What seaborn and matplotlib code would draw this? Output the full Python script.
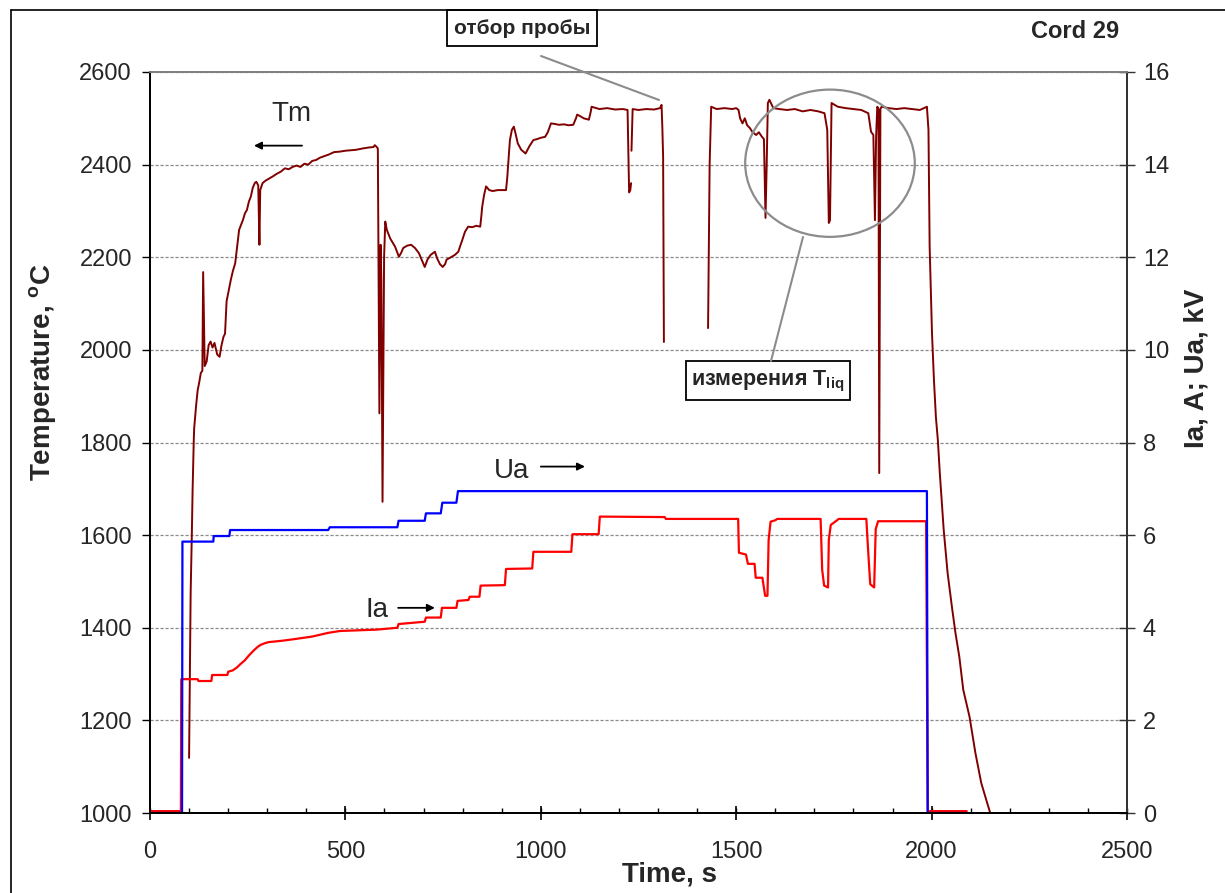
import numpy as np
import pandas as pd
import matplotlib
matplotlib.use("Agg")
import matplotlib.pyplot as plt
import seaborn as sns
from matplotlib.patches import Rectangle, Ellipse
from matplotlib.lines import Line2D
from matplotlib.ticker import MultipleLocator

# ---------------- data ----------------
# Melt temperature Tm (left axis, deg C); NaN marks a break in the record
tm_time = [100, 103, 104, 107, 109, 112, 113, 118, 122, 126, 130, 134, 136, 138, 140, 145, 150, 155,
           160, 165, 172, 178, 183, 188, 192, 196, 202, 207, 212, 218, 223, 228, 233, 238, 243, 248,
           253, 258, 263, 268, 272, 277, 280, 282, 288, 295, 305, 315, 324, 335, 345, 355, 365, 375,
           385, 395, 405, 415, 425, 435, 445, 458, 471, 485, 500, 515, 527, 545, 560, 572, 575, 578,
           583, 587, 590, 592, 595, 599, 602, 606, 615, 627, 637, 643, 648, 658, 668, 678, 688, 695,
           703, 710, 718, 729, 735, 742, 749, 755, 759, 770, 780, 789, 794, 799, 806, 814, 825, 835,
           845, 848, 850, 855, 860, 868, 877, 890, 905, 911, 914, 916, 919, 921, 926, 931, 936, 941,
           950, 961, 966, 971, 981, 990, 1000, 1011, 1018, 1026, 1035, 1046, 1060, 1070, 1083, 1090,
           1093, 1100, 1110, 1123, 1128, 1130, 1150, 1170, 1190, 1210, 1222, 1226, 1229, 1231, 1231.5,
           1232, 1235, 1250, 1270, 1290, 1305, 1309, 1311, 1313, 1315, 1400, 1428, 1432, 1436, 1450,
           1470, 1490, 1500, 1506, 1510, 1516, 1522, 1528, 1535, 1542, 1551, 1558, 1566, 1571, 1575,
           1578, 1581, 1585, 1595, 1610, 1630, 1650, 1670, 1690, 1710, 1726, 1733, 1737, 1740, 1744,
           1760, 1780, 1800, 1820, 1838, 1845, 1851, 1855, 1858, 1861, 1864, 1866, 1869, 1872, 1890,
           1910, 1930, 1950, 1970, 1988, 1992, 1995, 2001, 2006, 2011, 2016, 2021, 2031, 2041, 2052,
           2061, 2071, 2081, 2097, 2112, 2127, 2140, 2150]
tm_temp = [1119, 1380, 1475, 1600, 1697, 1805, 1830, 1880, 1913, 1930, 1950, 1955, 2168, 2060, 1965,
           1975, 2010, 2018, 2005, 2015, 1990, 1985, 2010, 2028, 2035, 2105, 2130, 2152, 2170, 2187,
           2223, 2259, 2270, 2281, 2295, 2302, 2320, 2331, 2350, 2360, 2363, 2355, 2227, 2345, 2360,
           2365, 2370, 2375, 2380, 2385, 2392, 2390, 2395, 2398, 2395, 2402, 2400, 2408, 2410, 2415,
           2418, 2422, 2427, 2428, 2430, 2431, 2432, 2435, 2437, 2438, 2442, 2440, 2435, 1863, 2227,
           2150, 1672, 2200, 2277, 2259, 2240, 2223, 2201, 2210, 2220, 2225, 2227, 2220, 2209, 2195,
           2179, 2195, 2205, 2212, 2197, 2185, 2179, 2185, 2195, 2200, 2205, 2212, 2225, 2237, 2255,
           2266, 2265, 2268, 2266, 2290, 2309, 2335, 2353, 2345, 2343, 2345, 2345, 2345, 2370, 2395,
           2430, 2453, 2475, 2482, 2465, 2446, 2432, 2424, 2432, 2440, 2453, 2455, 2458, 2460, 2470,
           2489, 2488, 2486, 2487, 2485, 2486, 2500, 2508, 2505, 2500, 2497, 2515, 2525, 2520, 2522,
           2519, 2520, 2518, 2340, 2345, 2360, np.nan, 2430, 2520, 2518, 2520, 2519, 2522, 2529, 2480,
           2417, 2017, np.nan, 2047, 2400, 2525, 2520, 2522, 2520, 2522, 2518, 2500, 2489, 2500, 2485,
           2479, 2470, 2464, 2470, 2460, 2455, 2285, 2400, 2533, 2540, 2522, 2520, 2518, 2520, 2515,
           2518, 2515, 2511, 2475, 2274, 2280, 2533, 2525, 2522, 2520, 2518, 2511, 2471, 2464, 2280,
           2460, 2525, 2520, 1734, 2520, 2525, 2522, 2520, 2522, 2520, 2518, 2525, 2475, 2223, 2036,
           1935, 1855, 1805, 1734, 1611, 1518, 1445, 1389, 1337, 1266, 1208, 1130, 1065, 1028, 1000]

# Anode current Ia (right axis, A)
ia_time = [0, 79, 80, 122, 124, 157, 159, 198, 200, 212, 222, 232, 243, 253, 262, 268, 276, 283, 295,
           304, 339, 374, 415, 456, 486, 581, 633, 636, 703, 706, 744, 747, 784, 787, 815, 818, 843,
           846, 908, 911, 978, 981, 1078, 1081, 1148, 1151, 1317, 1320, 1505, 1507, 1525, 1530, 1547,
           1550, 1567, 1574, 1580, 1583, 1588, 1600, 1605, 1716, 1720, 1725, 1735, 1737, 1742, 1758,
           1762, 1833, 1838, 1843, 1853, 1857, 1863, 1986, 1990, 2090]
ia_val = [0.04, 0.04, 2.89, 2.89, 2.85, 2.85, 2.98, 2.98, 3.05, 3.08, 3.14, 3.22, 3.30, 3.40, 3.48,
          3.53, 3.59, 3.63, 3.67, 3.69, 3.72, 3.76, 3.81, 3.89, 3.93, 3.96, 4.00, 4.08, 4.13, 4.22,
          4.22, 4.43, 4.43, 4.58, 4.60, 4.67, 4.67, 4.91, 4.92, 5.27, 5.28, 5.64, 5.64, 6.02, 6.02,
          6.40, 6.39, 6.35, 6.35, 5.62, 5.58, 5.38, 5.38, 5.08, 5.08, 4.69, 4.69, 5.90, 6.29, 6.32,
          6.35, 6.35, 5.25, 4.91, 4.87, 5.90, 6.22, 6.32, 6.35, 6.35, 5.61, 4.94, 4.87, 6.13, 6.30,
          6.30, 0.04, 0.04]

# Anode voltage Ua (right axis, kV)
ua_time = [0, 82, 83, 162, 163, 203, 205, 456, 460, 633, 636, 703, 706, 744, 748, 784, 788, 1988,
           1990, 2090]
ua_val = [0.0, 0.0, 5.86, 5.86, 5.98, 5.98, 6.11, 6.11, 6.17, 6.17, 6.31, 6.31, 6.47, 6.47, 6.70,
          6.70, 6.95, 6.95, 0.0, 0.0]

x_ticks = [0, 500, 1000, 1500, 2000, 2500]
t_ticks = [1000, 1200, 1400, 1600, 1800, 2000, 2200, 2400, 2600]
r_ticks = [0, 2, 4, 6, 8, 10, 12, 14, 16]

# ---------------- style ----------------
sns.set_style("ticks")
plt.rcParams["font.family"] = ["Liberation Sans", "DejaVu Sans"]
plt.rcParams["mathtext.fontset"] = "custom"
plt.rcParams["mathtext.rm"] = "Liberation Sans"
plt.rcParams["mathtext.bf"] = "Liberation Sans:bold"

W, H = 1225, 893
fig = plt.figure(figsize=(W / 100, H / 100), dpi=100)
fig.patch.set_facecolor("white")

def fx(px):
    return px / W

def fy(py):
    return 1 - py / H

ax = fig.add_axes([fx(150), fy(813), 977 / W, 741 / H])
ax2 = ax.twinx()

# Tm with breaks -> segments as units
tm_df = pd.DataFrame({"t": tm_time, "T": tm_temp})
tm_df["seg"] = tm_df["T"].isna().cumsum()
tm_df = tm_df.dropna()
sns.lineplot(data=tm_df, x="t", y="T", units="seg", estimator=None, sort=False,
             color="#800000", lw=1.4, ax=ax)

sns.lineplot(x=ia_time, y=ia_val, estimator=None, sort=False, color="#FF0000", lw=1.6, ax=ax2)
sns.lineplot(x=ua_time, y=ua_val, estimator=None, sort=False, color="#0000FF", lw=1.6, ax=ax2)

ax.set_xlim(0, 2500)
ax.set_ylim(1000, 2600)
ax2.set_ylim(0, 16)
ax.set_xticks(x_ticks)
ax.set_yticks(t_ticks)
ax2.set_yticks(r_ticks)
ax.xaxis.set_minor_locator(MultipleLocator(100))
ax.xaxis.remove_overlapping_locs = False
ax.set_xlabel("")
ax.set_ylabel("")
ax2.set_ylabel("")

ax.yaxis.grid(True, linestyle=(0, (2.5, 1.5)), color="#8a8a8a", lw=0.9)
ax.xaxis.grid(False)
ax.set_axisbelow(True)

tick_fs = 17
ax.tick_params(axis="x", which="major", direction="inout", length=10, width=1.2,
               color="black", labelsize=tick_fs, pad=15)
ax.tick_params(axis="x", which="minor", direction="in", length=3.8, width=1.0, color="black")
ax.tick_params(axis="y", which="major", direction="out", length=6, width=1.0,
               color="black", labelsize=tick_fs, pad=7, left=True, right=False)
ax2.tick_params(axis="y", which="major", direction="inout", length=12, width=1.0,
                color="#333333", labelsize=tick_fs, pad=5.5)

for a in (ax, ax2):
    a.spines["top"].set_color("#808080")
    a.spines["top"].set_linewidth(1.3)
    a.spines["left"].set_color("black")
    a.spines["left"].set_linewidth(1.3)
    a.spines["right"].set_color("#333333")
    a.spines["right"].set_linewidth(1.3)
    a.spines["bottom"].set_color("black")
    a.spines["bottom"].set_linewidth(1.4)

# ---------------- labels ----------------
fig.text(fx(43), fy(372), "Temperature, $^{\\mathbf{o}}$C", rotation=90, ha="center",
         va="center", fontsize=20, fontweight="bold")
fig.text(fx(1196), fy(368), "Ia, A; Ua, kV", rotation=90, ha="center", va="center",
         fontsize=20, fontweight="bold")
fig.text(fx(670), fy(887), "Time, s", ha="center", va="bottom", fontsize=20, fontweight="bold")
fig.text(fx(1119), fy(38), "Cord 29", ha="right", va="baseline", fontsize=17, fontweight="bold")

# series labels with arrows (left-axis data coords)
ax.text(363, 2494, "Tm", ha="center", va="baseline", fontsize=20)
ax.text(926, 1723, "Ua", ha="center", va="baseline", fontsize=20)
ax.text(581, 1423, "Ia", ha="center", va="baseline", fontsize=20)
arrow_kw = dict(arrowstyle="-|>", color="black", lw=1.3, mutation_scale=11,
                shrinkA=0, shrinkB=0)
ax.annotate("", xy=(266, 2441), xytext=(389, 2441), arrowprops=arrow_kw)
ax.annotate("", xy=(1113, 1748), xytext=(1000, 1748), arrowprops=arrow_kw)
ax.annotate("", xy=(729, 1443), xytext=(635, 1443), arrowprops=arrow_kw)

# ellipse around T_liq measurements
ax.add_patch(Ellipse((1740, 2403), 434, 318, fill=False, edgecolor="#8c8c8c", lw=1.6,
                     clip_on=False, zorder=5))

# callout lines
fig.add_artist(Line2D([fx(541), fx(659)], [fy(56), fy(100)], color="#8c8c8c", lw=1.5))
fig.add_artist(Line2D([fx(803), fx(771)], [fy(237), fy(361)], color="#8c8c8c", lw=1.5))

# callout boxes
fig.add_artist(Rectangle((fx(447), fy(46)), (597 - 447) / W, 36 / H, transform=fig.transFigure,
                         facecolor="white", edgecolor="black", lw=1.3))
fig.text(fx(522), fy(28), "отбор пробы", ha="center", va="center", fontsize=15,
         fontweight="bold")
fig.add_artist(Rectangle((fx(686), fy(400)), (850 - 686) / W, 39 / H, transform=fig.transFigure,
                         facecolor="white", edgecolor="black", lw=1.3))
fig.text(fx(768), fy(381), "измерения T$_{\\mathbf{liq}}$", ha="center", va="center",
         fontsize=15.5, fontweight="bold")

# outer frame (cropped at right and bottom)
fig.add_artist(Line2D([fx(11), fx(11)], [0, fy(10)], color="black", lw=1.2))
fig.add_artist(Line2D([fx(11), 1], [fy(10), fy(10)], color="black", lw=1.2))

fig.savefig("out.png", dpi=100, facecolor="white")
